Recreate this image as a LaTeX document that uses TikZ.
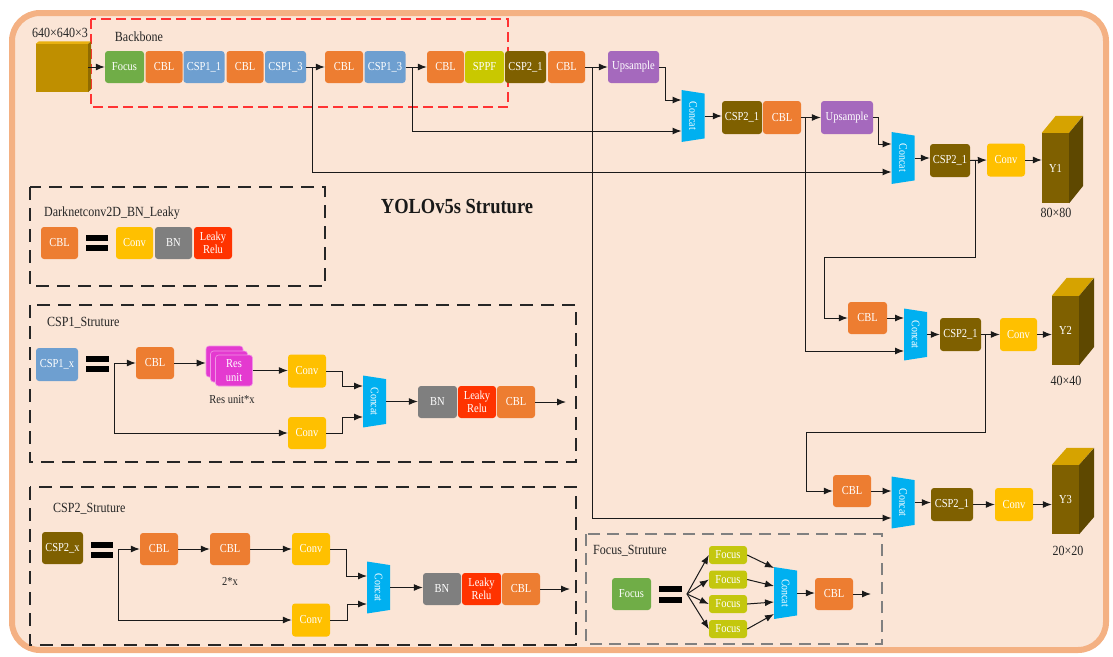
\documentclass[tikz,border=0pt]{standalone}
\usepackage{fontspec}
\setmainfont{Liberation Serif}[FakeStretch=0.86]
\usetikzlibrary{shapes.geometric,arrows.meta,calc}
\definecolor{bgc}{HTML}{FBE5D6}
\definecolor{framec}{HTML}{F4B183}
\definecolor{focusc}{HTML}{70AD47}
\definecolor{cblc}{HTML}{ED7D31}
\definecolor{csponec}{HTML}{6E9FD0}
\definecolor{sppfc}{HTML}{C9C800}
\definecolor{csptwoc}{HTML}{7F6000}
\definecolor{upc}{HTML}{A569BD}
\definecolor{convc}{HTML}{FFC000}
\definecolor{bnc}{HTML}{7F7F7F}
\definecolor{lrc}{HTML}{FF3300}
\definecolor{concatc}{HTML}{00B0F0}
\definecolor{resc}{HTML}{E43AD0}
\definecolor{focussc}{HTML}{C4C70E}
\definecolor{cubefront}{HTML}{7F6000}
\definecolor{cubetop}{HTML}{D6A300}
\definecolor{cubeside}{HTML}{5E4800}
\definecolor{incube}{HTML}{BF8F00}
\definecolor{incubetop}{HTML}{E8B010}
\definecolor{redd}{HTML}{FF3333}
\definecolor{linec}{HTML}{1A1A1A}
\newcommand\boxfont{\fontsize{12.2}{13.5}\selectfont}
\begin{document}
\begin{tikzpicture}[x=1pt,y=-1pt,
  blk/.style={rounded corners=3pt, minimum height=32pt, inner sep=0pt, text=white, font=\boxfont, align=center},
  resbox/.style={blk, fill=resc, draw=resc!55!white, line width=0.6pt, minimum width=37pt, minimum height=31pt},
  concat/.style={trapezium, rotate=-90, trapezium left angle=74, trapezium right angle=74, trapezium stretches=true, minimum width=52pt, minimum height=23pt, inner sep=0pt, fill=concatc, text=white, font=\fontsize{11.5}{11.5}\selectfont},
  arr/.style={-{Latex[length=9pt,width=7pt]}, line width=1pt, draw=linec},
  lbl/.style={font=\fontsize{14}{16}\selectfont, text=black!85, inner sep=0pt},
  smlbl/.style={font=\fontsize{12.2}{14}\selectfont, text=black!85, inner sep=0pt},
  eqs/.style={minimum width=22pt, minimum height=16pt, inner sep=0pt},
  dbox/.style={draw=black!85, line width=1.8pt, dash pattern=on 13pt off 8pt},
  gbox/.style={draw=black!50, line width=1.5pt, dash pattern=on 12pt off 7pt},
  rbox/.style={draw=redd, line width=1.6pt, dash pattern=on 10pt off 5pt},
  cubef/.style={fill=cubefront, inner sep=0pt, text=white, font=\boxfont, minimum width=27pt}
]
\useasboundingbox (0,0) rectangle (1113,656);
% outer frame
\draw[line width=6pt, draw=framec, fill=bgc, rounded corners=28pt] (12,13) rectangle (1106,650);

% ---------- backbone ----------
\draw[rbox] (91,19) rectangle (508,107);
\node[lbl] (bbl) at (139,37) {Backbone};
\node[fill=incube, minimum width=52pt, minimum height=48pt, inner sep=0pt] (inimg) at (62,68) {};
\fill[incubetop] (inimg.north west) -- ++(3,-2.5) -- ++(52,0) -- (inimg.north east) -- cycle;
\fill[incube!75!black] (inimg.north east) -- ++(3,-2.5) -- ++(0,48) -- (inimg.south east) -- cycle;
\node[lbl] (inl) at (60,33) {640×640×3};

\node[blk,fill=focusc,minimum width=39pt] (fc) at (124.5,67) {Focus};
\node[blk,fill=cblc,minimum width=37pt] (cb1) at (164,67) {CBL};
\node[blk,fill=csponec,minimum width=41pt] (cs11) at (204,67) {CSP1\_1};
\node[blk,fill=cblc,minimum width=37pt] (cb2) at (245,67) {CBL};
\node[blk,fill=csponec,minimum width=41pt] (cs13a) at (285.5,67) {CSP1\_3};
\node[blk,fill=cblc,minimum width=38pt] (cb3) at (344,67) {CBL};
\node[blk,fill=csponec,minimum width=41pt] (cs13b) at (385,67) {CSP1\_3};
\node[blk,fill=cblc,minimum width=37pt] (cb4) at (445.5,67) {CBL};
\node[blk,fill=sppfc,minimum width=39pt] (sppf) at (484.5,67) {SPPF};
\node[blk,fill=csptwoc,minimum width=41pt] (cs21a) at (525.5,67) {CSP2\_1};
\node[blk,fill=cblc,minimum width=37pt] (cb5) at (566.5,67) {CBL};
\node[blk,fill=upc,minimum width=51pt] (up1) at (633.5,67) {Upsample};

% ---------- neck / head ----------
\node[concat] (cc1) at (693,116) {Concat};
\node[blk,fill=csptwoc,minimum width=40pt,minimum height=33pt] (cs21b) at (742,117.5) {CSP2\_1};
\node[blk,fill=cblc,minimum width=38pt,minimum height=33pt] (cb6) at (782,117.5) {CBL};
\node[blk,fill=upc,minimum width=52pt,minimum height=33pt] (up2) at (847,117.5) {Upsample};

\node[concat] (cc2) at (903,158) {Concat};
\node[blk,fill=csptwoc,minimum width=40pt,minimum height=33pt] (cs21c) at (950,160.5) {CSP2\_1};
\node[blk,fill=convc,minimum width=38pt,minimum height=33pt] (cv1) at (1006,160) {Conv};

\node[blk,fill=cblc,minimum width=39pt] (cb7) at (867.5,318) {CBL};
\node[concat] (cc3) at (915.5,334.5) {Concat};
\node[blk,fill=csptwoc,minimum width=41pt,minimum height=33pt] (cs21d) at (960.5,334.5) {CSP2\_1};
\node[blk,fill=convc,minimum width=37pt,minimum height=33pt] (cv2) at (1018.5,334.5) {Conv};

\node[blk,fill=cblc,minimum width=38pt] (cb8) at (852,491) {CBL};
\node[concat] (cc4) at (903,502.5) {Concat};
\node[blk,fill=csptwoc,minimum width=42pt,minimum height=33pt] (cs21e) at (952,504.5) {CSP2\_1};
\node[blk,fill=convc,minimum width=38pt,minimum height=33pt] (cv3) at (1014,504.5) {Conv};

% output cubes
\node[cubef,minimum height=70pt] (y1) at (1055.5,168) {Y1};
\fill[cubetop] (y1.north west) -- ++(14,-17) -- ++(27,0) -- (y1.north east) -- cycle;
\fill[cubeside] (y1.north east) -- ++(14,-17) -- ++(0,70) -- (y1.south east) -- cycle;
\node[lbl] (y1l) at (1056,213) {80×80};

\node[cubef,minimum height=69pt] (y2) at (1065.5,330.5) {Y2};
\fill[cubetop] (y2.north west) -- ++(15,-18) -- ++(27,0) -- (y2.north east) -- cycle;
\fill[cubeside] (y2.north east) -- ++(15,-18) -- ++(0,69) -- (y2.south east) -- cycle;
\node[lbl] (y2l) at (1066,381) {40×40};

\node[cubef,minimum height=69pt] (y3) at (1065.5,499.5) {Y3};
\fill[cubetop] (y3.north west) -- ++(15,-17) -- ++(27,0) -- (y3.north east) -- cycle;
\fill[cubeside] (y3.north east) -- ++(15,-17) -- ++(0,69) -- (y3.south east) -- cycle;
\node[lbl] (y3l) at (1068,551) {20×20};

% concat input points
\coordinate (c1a) at (681.5,100);
\coordinate (c1b) at (681.5,131);
\coordinate (c2a) at (891.5,144);
\coordinate (c2b) at (891.5,172);
\coordinate (c3a) at (904,318);
\coordinate (c3b) at (904,351);
\coordinate (c4a) at (891.5,491);
\coordinate (c4b) at (891.5,518);
\coordinate (j1) at (312,67);
\coordinate (j2) at (412,67);
\coordinate (j3) at (592,67);
\coordinate (j4) at (805,117.5);
\coordinate (j5) at (975,160.5);
\coordinate (j6) at (985,334.5);

% connectors
\draw[arr] (inimg.east |- fc.west) -- (fc.west);
\draw[arr] (cs13a.east) -- (cb3.west);
\draw[arr] (cs13b.east) -- (cb4.west);
\draw[arr] (cb5.east) -- (up1.west);
\draw[arr] (j1) |- (c2b);
\draw[arr] (j2) |- (c1b);
\draw[arr] (j3) |- (c4b);
\draw[arr] (up1.east) -- ++(6,0) |- (c1a);
\draw[arr] (cc1.north) -- (cc1.north -| cs21b.west);
\draw[arr] (cb6.east) -- (up2.west);
\draw[arr] (j4) |- (c3b);
\draw[arr] (up2.east) -- ++(5,0) |- (c2a);
\draw[arr] (cc2.north) -- (cc2.north -| cs21c.west);
\draw[arr] (cs21c.east) -- (cv1.west);
\draw[arr] (j5) |- (824,257) |- (cb7.west);
\draw[arr] (cv1.east) -- (cv1.east -| y1.west);
\draw[arr] (cb7.east) -- (c3a);
\draw[arr] (cc3.north) -- (cc3.north -| cs21d.west);
\draw[arr] (cs21d.east) -- (cv2.west);
\draw[arr] (j6) |- (806,432) |- (cb8.west);
\draw[arr] (cv2.east) -- (cv2.east -| y2.west);
\draw[arr] (cb8.east) -- (c4a);
\draw[arr] (cc4.north) -- (cc4.north -| cs21e.west);
\draw[arr] (cs21e.east) -- (cv3.west);
\draw[arr] (cv3.east) -- (cv3.east -| y3.west);

% ---------- title ----------
\node[font=\fontsize{21.5}{23}\selectfont\bfseries, text=black!90] (ttl) at (457,207) {YOLOv5s Struture};

% ---------- Darknetconv2D_BN_Leaky ----------
\draw[dbox] (30,187) rectangle (325,286);
\node[lbl,anchor=west] (dkl) at (44,213) {Darknetconv2D\_BN\_Leaky};
\node[blk,fill=cblc,minimum width=37pt] (cbA) at (59.5,243) {CBL};
\node[eqs] (eqA) at (97,243) {};
\fill[black] (eqA.north west) rectangle ([yshift=-6pt]eqA.north east);
\fill[black] (eqA.south west) rectangle ([yshift=6pt]eqA.south east);
\node[blk,fill=convc,minimum width=37pt] (cvA) at (134.5,243) {Conv};
\node[blk,fill=bnc,minimum width=37pt] (bnA) at (173.5,243) {BN};
\node[blk,fill=lrc,minimum width=38pt] (lrA) at (213,243) {Leaky\\Relu};

% ---------- CSP1 ----------
\draw[dbox] (30,305) rectangle (576,462);
\node[lbl,anchor=west] (c1l) at (47,323) {CSP1\_Struture};
\node[blk,fill=csponec,minimum width=42pt,minimum height=33pt] (c1x) at (57,364.5) {CSP1\_x};
\node[eqs] (eqB) at (97.5,364) {};
\fill[black] (eqB.north west) rectangle ([yshift=-6pt]eqB.north east);
\fill[black] (eqB.south west) rectangle ([yshift=6pt]eqB.south east);
\coordinate (bB) at (114,363);
\node[blk,fill=cblc,minimum width=38pt] (cbB) at (155,363) {CBL};
\node[resbox] (ruA) at (224.5,361.5) {};
\node[resbox] (ruB) at (229,366.5) {};
\node[resbox] (ru) at (234,370.5) {Res\\unit};
\node[smlbl] (rul) at (232,400) {Res unit*x};
\node[blk,fill=convc,minimum width=38pt,minimum height=33pt] (cvB1) at (307,371) {Conv};
\node[blk,fill=convc,minimum width=38pt,minimum height=32pt] (cvB2) at (307,433) {Conv};
\node[concat] (ccA) at (374.5,401.5) {Concat};
\coordinate (cAa) at (363,386);
\coordinate (cAb) at (363,417);
\node[blk,fill=bnc,minimum width=39pt] (bnB) at (437.5,402) {BN};
\node[blk,fill=lrc,minimum width=38pt] (lrB) at (477,402) {Leaky\\Relu};
\node[blk,fill=cblc,minimum width=38pt] (cbB2) at (516,402) {CBL};
\coordinate (oB) at (566,402);
\draw[arr] (bB) -- (cbB.west);
\draw[arr] (cbB.east) -- (cbB.east -| ruA.west);
\draw[arr] (ru.east) -- (ru.east -| cvB1.west);
\draw[arr] (bB) |- (cvB2.west);
\draw[arr] (cvB1.east) -- ++(16,0) |- (cAa);
\draw[arr] (cvB2.east) -- ++(16,0) |- (cAb);
\draw[arr] (ccA.north) -- (ccA.north -| bnB.west);
\draw[arr] (cbB2.east) -- (oB);

% ---------- CSP2 ----------
\draw[dbox] (30,487) rectangle (576,645);
\node[lbl,anchor=west] (c2l) at (53,509) {CSP2\_Struture};
\node[blk,fill=csptwoc,minimum width=41pt] (c2x) at (62.5,548) {CSP2\_x};
\node[eqs] (eqC) at (102,550) {};
\fill[black] (eqC.north west) rectangle ([yshift=-6pt]eqC.north east);
\fill[black] (eqC.south west) rectangle ([yshift=6pt]eqC.south east);
\coordinate (bC) at (118,549);
\node[blk,fill=cblc,minimum width=38pt] (cbC1) at (159,549) {CBL};
\node[blk,fill=cblc,minimum width=40pt] (cbC2) at (230,549) {CBL};
\node[smlbl] (twox) at (230,581) {2*x};
\node[blk,fill=convc,minimum width=38pt] (cvC1) at (311,549) {Conv};
\node[blk,fill=convc,minimum width=38pt,minimum height=33pt] (cvC2) at (311,620) {Conv};
\node[concat] (ccB) at (378.5,587.5) {Concat};
\coordinate (cBa) at (367,576);
\coordinate (cBb) at (367,604);
\node[blk,fill=bnc,minimum width=38pt] (bnC) at (442,589) {BN};
\node[blk,fill=lrc,minimum width=39pt] (lrC) at (481.5,589) {Leaky\\Relu};
\node[blk,fill=cblc,minimum width=38pt] (cbC3) at (521,589) {CBL};
\coordinate (oC) at (570,589);
\draw[arr] (bC) -- (cbC1.west);
\draw[arr] (cbC1.east) -- (cbC2.west);
\draw[arr] (cbC2.east) -- (cvC1.west);
\draw[arr] (bC) |- (cvC2.west);
\draw[arr] (cvC1.east) -- ++(16,0) |- (cBa);
\draw[arr] (cvC2.east) -- ++(17,0) |- (cBb);
\draw[arr] (ccB.north) -- (ccB.north -| bnC.west);
\draw[arr] (cbC3.east) -- (oC);

% ---------- Focus ----------
\draw[gbox] (586,534) rectangle (882,644);
\node[lbl,anchor=west] (fl) at (593,551) {Focus\_Struture};
\node[blk,fill=focusc,minimum width=39pt] (fcF) at (631.5,594) {Focus};
\node[eqs] (eqD) at (670.5,594.5) {};
\fill[black] (eqD.north west) rectangle ([yshift=-6pt]eqD.north east);
\fill[black] (eqD.south west) rectangle ([yshift=6pt]eqD.south east);
\coordinate (bD) at (687,594);
\node[blk,fill=focussc,minimum width=38pt,minimum height=18pt] (fF1) at (728,555) {Focus};
\node[blk,fill=focussc,minimum width=38pt,minimum height=18pt] (fF2) at (728,579.5) {Focus};
\node[blk,fill=focussc,minimum width=38pt,minimum height=18pt] (fF3) at (728,604) {Focus};
\node[blk,fill=focussc,minimum width=38pt,minimum height=18pt] (fF4) at (728,629) {Focus};
\node[concat] (ccF) at (785.5,593) {Concat};
\coordinate (cF1) at (774,568);
\coordinate (cF2) at (774,586);
\coordinate (cF3) at (774,602);
\coordinate (cF4) at (774,614);
\node[blk,fill=cblc,minimum width=38pt] (cbF) at (834,594) {CBL};
\coordinate (oF) at (871,594);
\draw[arr] (bD) -- (fF1.west);
\draw[arr] (bD) -- (fF2.west);
\draw[arr] (bD) -- (fF3.west);
\draw[arr] (bD) -- (fF4.west);
\draw[arr] (fF1.east) -- (cF1);
\draw[arr] (fF2.east) -- (cF2);
\draw[arr] (fF3.east) -- (cF3);
\draw[arr] (fF4.east) -- (cF4);
\draw[arr] (ccF.north) -- (ccF.north -| cbF.west);
\draw[arr] (cbF.east) -- (oF);
\end{tikzpicture}
\end{document}
